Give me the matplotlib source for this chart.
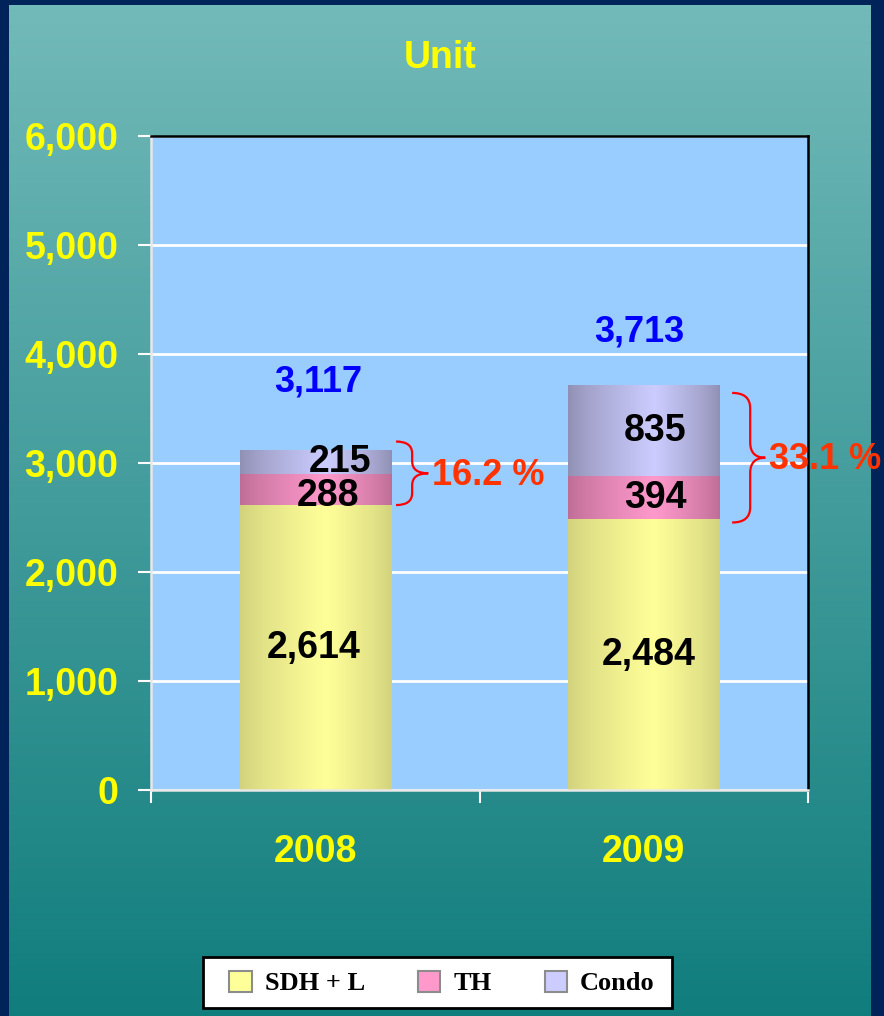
import numpy as np
import matplotlib.pyplot as plt
from matplotlib.path import Path
from matplotlib.patches import PathPatch, Patch, Rectangle
from matplotlib.colors import to_rgb

years = ['2008', '2009']
sdh = [2614, 2484]
th = [288, 394]
condo = [215, 835]
totals = [a + b + c for a, b, c in zip(sdh, th, condo)]
pct_labels = ['16.2 %', '33.1 %']
series_names = ['SDH + L', 'TH', 'Condo']

SANS = ['Liberation Sans', 'DejaVu Sans']
SERIF = ['Liberation Serif', 'DejaVu Serif']
YEL = '#FFFF00'

# (edge colour, centre colour) for the bar shading
shades = [('#D2D27E', '#FFFF99'), ('#BE6E96', '#FF99CC'), ('#9090B4', '#CCCCFF')]


def shaded(ax, patch, edge, centre):
    t = np.linspace(0, 1, 120)
    peak = 0.57
    w = np.where(t < peak, t / peak, (1 - t) / (1 - peak))
    w = w ** 0.8
    e, c = np.array(to_rgb(edge)), np.array(to_rgb(centre))
    img = e[None, :] + (c - e)[None, :] * w[:, None]
    img = img[None, :, :]
    x0, y0 = patch.get_x(), patch.get_y()
    im = ax.imshow(img, extent=(x0, x0 + patch.get_width(), y0, y0 + patch.get_height()),
                   aspect='auto', zorder=2, interpolation='bilinear')
    im.set_clip_path(patch)


def brace(ax, x0, top, bot, w, tip, r, color):
    mid = (top + bot) / 2
    xv = x0 + w
    verts = [(x0, top), (xv, top), (xv, top - r),
             (xv, mid + r), (xv, mid), (xv + tip, mid),
             (xv, mid), (xv, mid - r),
             (xv, bot + r), (xv, bot), (x0, bot)]
    codes = [Path.MOVETO, Path.CURVE3, Path.CURVE3,
             Path.LINETO, Path.CURVE3, Path.CURVE3,
             Path.CURVE3, Path.CURVE3,
             Path.LINETO, Path.CURVE3, Path.CURVE3]
    ax.add_patch(PathPatch(Path(verts, codes), fill=False, edgecolor=color, lw=1.6,
                           clip_on=False, zorder=5))


fig = plt.figure(figsize=(8.84, 10.16), dpi=100)
fig.patch.set_facecolor('#00235A')

# teal gradient background inside the navy frame
bg = fig.add_axes([9 / 884, 0, (871 - 9) / 884, (1016 - 5) / 1016], zorder=-5)
top_c, bot_c = np.array([114, 186, 185]) / 255, np.array([17, 125, 125]) / 255
g = np.linspace(0, 1, 256)[:, None]
bg.imshow((top_c + (bot_c - top_c) * g)[:, None, :], aspect='auto', extent=(0, 1, 0, 1))
bg.set_axis_off()

ax = fig.add_axes([151 / 884, 226 / 1016, 657 / 884, 654 / 1016])
ax.set_facecolor('#99CCFF')
x = np.arange(len(years))
width = 0.46

ax.set_xlim(-0.5, 1.5)
ax.set_ylim(0, 6000)
ax.set_yticks(range(0, 6001, 1000))
ax.set_yticklabels([f'{v:,}' for v in range(0, 6001, 1000)])
ax.yaxis.grid(True, color='white', lw=2)
ax.set_axisbelow(True)

bottoms = np.zeros(len(years))
for vals, (edge, centre) in zip([sdh, th, condo], shades):
    bars = ax.bar(x, vals, width, bottom=bottoms, facecolor='none', edgecolor='none', zorder=2)
    for p in bars:
        shaded(ax, p, edge, centre)
    bottoms += np.array(vals)

# segment labels (2009 column sits a little right of centre)
lab_dx = [[-0.005, 0.04, 0.075], [0.015, 0.035, 0.035]]
for i in range(len(years)):
    segs = [sdh[i], th[i], condo[i]]
    base = 0
    for j, v in enumerate(segs):
        yy = base + v / 2
        if i == 0 and j == 1:
            yy -= 60
        ax.text(x[i] + lab_dx[i][j], yy, f'{v:,}', ha='center', va='center',
                fontsize=27, fontweight='bold', family=SANS, color='black', zorder=4)
        base += v

tot_dy = [630, 490]
tot_dx = [0.01, -0.015]
for i, t in enumerate(totals):
    ax.text(x[i] + tot_dx[i], t + tot_dy[i], f'{t:,}', ha='center', va='center',
            fontsize=26, fontweight='bold', family=SANS, color='#0000FF', zorder=4)

# braces and percentage notes
brace_x0 = [0.246, 1.269]
brace_w = [0.049, 0.055]
brace_tip = [0.049, 0.046]
brace_r = [110, 140]
for i in range(len(years)):
    top = totals[i] + (80 if i == 0 else -70)
    bot = sdh[i] - (0 if i == 0 else 30)
    brace(ax, brace_x0[i], top, bot, brace_w[i], brace_tip[i], brace_r[i], '#FF0000')
    tx = brace_x0[i] + brace_w[i] + brace_tip[i] + 0.01
    ax.text(tx, (top + bot) / 2 - 20, pct_labels[i], ha='left', va='center',
            fontsize=26, fontweight='bold', family=SANS, color='#FF3300',
            clip_on=False, zorder=10)

# ticks: boundaries as major ticks, year labels on minor ticks
ax.set_xticks([-0.5, 0.5, 1.5])
ax.set_xticklabels([])
ax.set_xticks(x, minor=True)
ax.set_xticklabels(years, minor=True)
ax.tick_params(axis='x', which='major', direction='out', length=9.5, width=1.5, color='white')
ax.tick_params(axis='x', which='minor', length=0, pad=32, labelsize=27, labelcolor=YEL)
ax.tick_params(axis='y', direction='out', length=9.5, width=1.5, color='white', pad=14,
               labelsize=27, labelcolor=YEL)
for lab in ax.get_xticklabels(minor=True) + ax.get_yticklabels():
    lab.set_fontweight('bold')
    lab.set_family(SANS)

ax.spines['left'].set_color('#E8E8E8')
ax.spines['bottom'].set_color('#E8E8E8')
ax.spines['top'].set_color('black')
ax.spines['right'].set_color('black')
for s in ax.spines.values():
    s.set_linewidth(1.8)

fig.text(440 / 884, 1 - 58 / 1016, 'Unit', ha='center', va='center', fontsize=27,
         fontweight='bold', family=SANS, color=YEL)

# legend box drawn by hand so it can be wider than its contents
fig.patches.append(Rectangle((203 / 884, 1 - 1008 / 1016), 469 / 884, 51 / 1016,
                             transform=fig.transFigure, facecolor='white',
                             edgecolor='black', lw=2, zorder=1))
handles = [Patch(facecolor=c, edgecolor='#8C8C8C', lw=1.5, label=n)
           for n, (_, c) in zip(series_names, shades)]
leg = fig.legend(handles=handles, loc='center', bbox_to_anchor=(442 / 884, 1 - 983 / 1016),
                 ncol=3, frameon=False, handlelength=0.85, handleheight=0.85,
                 handletextpad=0.5, columnspacing=2.0, borderpad=0.3,
                 prop={'family': SERIF, 'weight': 'bold', 'size': 19})
leg.set_zorder(3)

fig.savefig('out.png', dpi=100, facecolor=fig.get_facecolor())
